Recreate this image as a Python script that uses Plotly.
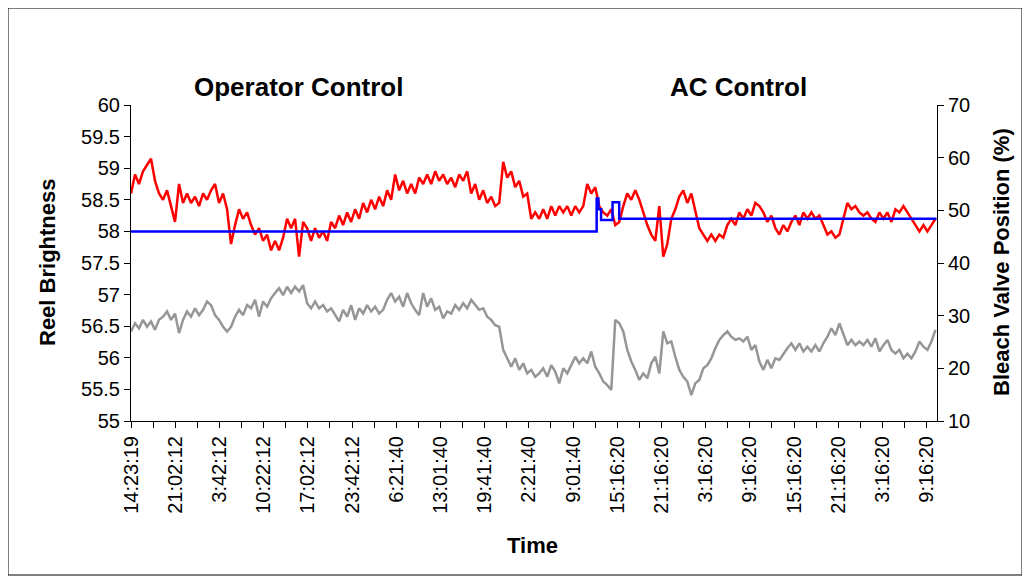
import numpy as np
import plotly.graph_objects as go

# ---- data ----
tick_labels = ["14:23:19", "21:02:12", "3:42:12", "10:22:12", "17:02:12", "23:42:12",
               "6:21:40", "13:01:40", "19:41:40", "2:21:40", "9:01:40", "15:16:20",
               "21:16:20", "3:16:20", "9:16:20", "15:16:20", "21:16:20", "3:16:20", "9:16:20"]

# Reel brightness (left axis), sampled evenly across the time span
reel_brightness = [
    58.6, 58.9, 58.75, 58.95, 59.05, 59.15, 58.8, 58.6, 58.5, 58.65,
    58.4, 58.15, 58.75, 58.45, 58.6, 58.45, 58.55, 58.4, 58.6, 58.5,
    58.65, 58.75, 58.45, 58.6, 58.35, 57.8, 58.1, 58.35, 58.2, 58.3,
    58.1, 57.95, 58.05, 57.85, 57.95, 57.7, 57.85, 57.7, 57.9, 58.2,
    58.05, 58.2, 57.6, 58.15, 58.05, 57.85, 58.05, 57.9, 58.0, 57.85,
    58.15, 58.05, 58.25, 58.1, 58.3, 58.15, 58.35, 58.2, 58.45, 58.3,
    58.5, 58.35, 58.55, 58.4, 58.65, 58.5, 58.9, 58.65, 58.8, 58.6,
    58.75, 58.6, 58.85, 58.75, 58.9, 58.75, 58.95, 58.8, 58.9, 58.75,
    58.85, 58.7, 58.9, 58.8, 58.95, 58.6, 58.75, 58.5, 58.65, 58.45,
    58.55, 58.4, 58.45, 59.1, 58.85, 58.95, 58.7, 58.8, 58.55, 58.6,
    58.2, 58.3, 58.2, 58.35, 58.2, 58.4, 58.25, 58.4, 58.3, 58.4,
    58.25, 58.4, 58.3, 58.4, 58.75, 58.6, 58.7, 58.4, 58.3, 58.25,
    58.35, 58.1, 58.15, 58.4, 58.6, 58.5, 58.65, 58.5, 58.3, 58.1,
    57.95, 57.85, 58.4, 57.6, 57.8, 58.2, 58.35, 58.55, 58.65, 58.45,
    58.6, 58.3, 58.05, 57.95, 57.85, 57.95, 57.85, 57.95, 57.9, 58.1,
    58.2, 58.1, 58.3, 58.2, 58.35, 58.25, 58.45, 58.4, 58.3, 58.15,
    58.25, 58.05, 57.95, 58.1, 58.0, 58.15, 58.25, 58.1, 58.3, 58.2,
    58.3, 58.2, 58.25, 58.1, 57.95, 58.0, 57.9, 57.95, 58.2, 58.45,
    58.35, 58.4, 58.3, 58.25, 58.3, 58.2, 58.15, 58.3, 58.2, 58.3,
    58.15, 58.35, 58.3, 58.4, 58.3, 58.2, 58.1, 58.0, 58.1, 58.0,
    58.1, 58.2,
]

# Bleach valve position % (right axis)
valve_position = [
    27.0, 28.55, 27.6, 29.2, 27.9, 28.9, 27.3, 29.2, 29.8, 30.8,
    29.2, 30.4, 26.7, 29.2, 30.8, 29.8, 31.4, 30.1, 31.1, 32.7,
    32.0, 30.1, 29.2, 27.9, 27.0, 27.9, 29.8, 31.1, 30.1, 32.0,
    31.4, 33.0, 29.8, 32.7, 31.7, 33.3, 34.3, 35.2, 33.9, 35.5,
    34.3, 35.5, 34.6, 35.8, 32.35, 31.4, 32.7, 31.4, 32.0, 30.8,
    31.4, 30.1, 28.9, 31.1, 29.8, 32.0, 29.2, 31.4, 30.4, 32.0,
    30.8, 31.7, 30.4, 31.1, 33.0, 34.3, 32.7, 33.6, 31.7, 34.3,
    32.35, 31.1, 30.1, 34.3, 31.7, 33.3, 31.1, 31.7, 29.5, 30.8,
    30.4, 32.0, 31.1, 32.35, 31.4, 33.0, 32.0, 31.1, 31.4, 29.8,
    29.2, 28.2, 27.9, 23.5, 21.9, 20.3, 21.9, 19.7, 20.95, 19.05,
    19.7, 18.4, 19.05, 20.0, 18.4, 20.6, 19.4, 17.15, 20.0, 19.05,
    20.6, 22.2, 20.95, 21.9, 20.95, 23.2, 20.3, 19.05, 17.5, 16.8,
    15.9, 29.2, 28.55, 27.0, 23.5, 21.3, 19.7, 17.8, 19.05, 18.1,
    20.95, 22.2, 19.05, 27.0, 24.75, 25.1, 22.2, 19.7, 18.4, 17.5,
    14.9, 17.15, 17.8, 20.0, 20.6, 21.9, 23.8, 25.4, 26.3, 27.0,
    26.0, 25.4, 25.7, 25.1, 26.0, 23.5, 24.4, 21.3, 19.7, 21.6,
    20.0, 21.9, 21.6, 22.8, 23.8, 24.75, 23.5, 24.75, 23.2, 24.1,
    23.2, 24.4, 23.2, 24.75, 26.0, 27.6, 26.3, 28.55, 26.3, 24.4,
    25.4, 24.4, 25.1, 24.4, 25.4, 24.1, 25.7, 23.2, 24.4, 25.4,
    23.5, 22.8, 23.5, 21.9, 22.8, 21.9, 23.2, 25.1, 24.1, 23.5,
    25.1, 27.3,
]

# Brightness target (left axis): change points on the category index, and levels
target_index = [0.0, 21.07, 21.15, 21.27, 21.79, 22.09, 36.45]
target_level = [58.0, 58.52, 58.35, 58.18, 58.46, 58.2, 58.2]

# ---- figure ----
n = len(reel_brightness)
span = 36.4
x_idx = np.linspace(0, span, n)

FONT = "Arial, Liberation Sans, sans-serif"

# page offset of the figure (browser body margin) and plot-area box in page pixels
OFF = 8
PL, PT, PW, PH = 131, 105, 806, 316
W, H = 1030 - OFF, 582 - OFF


def px(xp):
    return (xp - PL) / PW


def py(yp):
    return (PT + PH - yp) / PH


fig = go.Figure()
fig.add_trace(go.Scatter(x=x_idx, y=reel_brightness, mode="lines",
                         line=dict(color="#FF0000", width=2.5), yaxis="y", showlegend=False))
fig.add_trace(go.Scatter(x=target_index, y=target_level, mode="lines",
                         line=dict(color="#0000FF", width=2.5, shape="hv"), yaxis="y", showlegend=False))
fig.add_trace(go.Scatter(x=np.linspace(0, span, len(valve_position)), y=valve_position, mode="lines",
                         line=dict(color="#969696", width=2.5), yaxis="y2", showlegend=False))

tickvals = list(range(0, 37))
ticktext = [tick_labels[i // 2] if i % 2 == 0 else "" for i in tickvals]

fig.update_layout(
    width=W, height=H,
    margin=dict(l=PL - OFF, r=W - (PL - OFF) - PW, t=PT - OFF, b=H - (PT - OFF) - PH),
    paper_bgcolor="white", plot_bgcolor="white",
    font=dict(family=FONT, size=21, color="black"),
    xaxis=dict(range=[0, 36.47], tickvals=tickvals, ticktext=ticktext, tickangle=-90,
               showline=True, linecolor="black", linewidth=1, ticks="outside", ticklen=6,
               tickcolor="black", showgrid=False, zeroline=False, tickfont=dict(size=20)),
    yaxis=dict(range=[55, 60], dtick=0.5, tick0=55, showline=True, linecolor="black", linewidth=1,
               ticks="outside", ticklen=6, tickcolor="black", showgrid=False, zeroline=False,
               tickfont=dict(size=20)),
    yaxis2=dict(range=[10, 70], dtick=10, tick0=10, overlaying="y", side="right", showline=True,
                linecolor="black", linewidth=1, ticks="outside", ticklen=6, tickcolor="black",
                showgrid=False, zeroline=False, tickfont=dict(size=20)),
    shapes=[dict(type="rect", xref="paper", yref="paper",
                 x0=px(8), x1=px(1022), y0=py(575), y1=py(8),
                 line=dict(color="black", width=1))],
    annotations=[
        dict(text="<b>Operator Control</b>", x=px(298), y=py(87), xanchor="center", yanchor="middle",
             xref="paper", yref="paper", showarrow=False, font=dict(size=26)),
        dict(text="<b>AC Control</b>", x=px(738), y=py(87), xanchor="center", yanchor="middle",
             xref="paper", yref="paper", showarrow=False, font=dict(size=26)),
        dict(text="<b>Reel Brightness</b>", x=px(47), y=py(262), xanchor="center", yanchor="middle",
             xref="paper", yref="paper", showarrow=False, textangle=-90, font=dict(size=22)),
        dict(text="<b>Bleach Valve Position (%)</b>", x=px(1001), y=py(262), xanchor="center",
             yanchor="middle", xref="paper", yref="paper", showarrow=False, textangle=-90,
             font=dict(size=22)),
        dict(text="<b>Time</b>", x=px(532), y=py(545), xanchor="center", yanchor="middle",
             xref="paper", yref="paper", showarrow=False, font=dict(size=22)),
    ],
)

fig.write_html("out.html")
